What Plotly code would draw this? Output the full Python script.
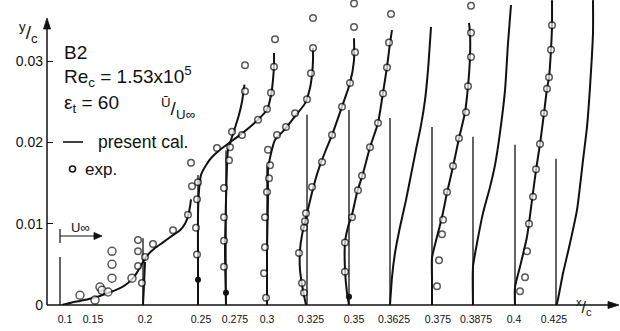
import plotly.graph_objects as go

# ---------------------------------------------------------------------------
# Mean velocity profiles U/U_inf versus y/c at chordwise stations x/c (case B2)
# ---------------------------------------------------------------------------
stations = ["0.1", "0.15", "0.2", "0.25", "0.275", "0.3", "0.325",
            "0.35", "0.3625", "0.375", "0.3875", "0.4", "0.425"]

# height (y/c) of the zero-velocity reference line drawn at each station
ref_top = [0.0059, None, 0.0082, 0.016, 0.019, 0.017, 0.0234,
           0.024, 0.023, 0.0219, 0.0207, 0.0197, 0.018]

# --- calculated profiles (present cal.) ---
cal_y_0100 = [0, 0.00025, 0.0005, 0.0007, 0.0011, 0.0015, 0.0018, 0.0022, 0.0027, 0.0033, 0.0042,
              0.0053, 0.0062, 0.0070, 0.0077, 0.0086, 0.0092, 0.0100, 0.0109, 0.0121, 0.0130]
cal_u_0100 = [0.04, 0.2, 0.4, 0.56, 0.8, 0.96, 1.1, 1.24, 1.36, 1.46, 1.56,
              1.66, 1.76, 1.9, 2.06, 2.26, 2.4, 2.5, 2.56, 2.6, 2.62]
cal_y_0200 = [0, 0.0025, 0.0053]
cal_u_0200 = [0, 0.02, 0.04]
cal_y_0250 = [0, 0.0055, 0.0111, 0.0141, 0.016, 0.0172, 0.0182, 0.0191, 0.0200, 0.0212, 0.0228,
              0.0240, 0.0258, 0.0277, 0.0295, 0.0310]
cal_u_0250 = [0, 0, 0, 0.02, 0.06, 0.16, 0.28, 0.44, 0.64, 0.9, 1.2, 1.38, 1.46, 1.5, 1.52, 1.52]
cal_y_0275 = [0, 0.0068, 0.0129, 0.0172, 0.0191, 0.0203, 0.0218, 0.0234, 0.0250, 0.0267, 0.0271]
cal_u_0275 = [0, -0.02, 0, 0.02, 0.04, 0.1, 0.18, 0.26, 0.32, 0.36, 0.37]
cal_y_0300 = [0, 0.0068, 0.0129, 0.0166, 0.0181, 0.0203, 0.0215, 0.0232, 0.0248, 0.0267, 0.0283,
              0.0301, 0.0316]
cal_u_0300 = [0, 0, 0.02, 0.02, 0.06, 0.16, 0.34, 0.56, 0.76, 0.86, 0.9, 0.92, 0.92]
cal_y_0325 = [0, 0.0018, 0.0043, 0.0068, 0.0086, 0.0102, 0.0123, 0.0148, 0.0172, 0.0191, 0.0209,
              0.0244, 0.0273, 0.0301, 0.0328]
cal_u_0325 = [-0.02, -0.08, -0.14, -0.14, -0.1, -0.04, 0.04, 0.14, 0.26, 0.38, 0.5,
              0.7, 0.86, 0.94, 0.94]
cal_y_0350 = [0, 0.0015, 0.0043, 0.0077, 0.0096, 0.0111, 0.0138, 0.0162, 0.0194, 0.0224, 0.0261,
              0.0293, 0.0322, 0.0338]
cal_u_0350 = [0, -0.04, -0.08, -0.08, -0.02, 0.06, 0.16, 0.28, 0.42, 0.58, 0.68, 0.76, 0.82, 0.86]
cal_y_03625 = [0, 0.0034, 0.0064, 0.0096, 0.0129, 0.016, 0.0191, 0.0221, 0.0252, 0.0289, 0.0342]
cal_u_03625 = [0, 0.04, 0.1, 0.2, 0.32, 0.42, 0.52, 0.62, 0.7, 0.76, 0.82]
cal_y_0375 = [0, 0.0031, 0.0058, 0.0084, 0.0108, 0.0138, 0.017, 0.0205, 0.0237, 0.0269, 0.0305,
              0.0335, 0.0347]
cal_u_0375 = [0, 0, 0, 0.1, 0.2, 0.3, 0.42, 0.54, 0.66, 0.72, 0.76, 0.76, 0.74]
cal_y_03875 = [0, 0.0047, 0.0076, 0.0113, 0.0145, 0.0172, 0.0212, 0.0264, 0.0322, 0.0369]
cal_u_03875 = [0, 0, 0.08, 0.2, 0.34, 0.44, 0.54, 0.64, 0.7, 0.76]
cal_y_0400 = [0, 0.0022, 0.0047, 0.0084, 0.0129, 0.0166, 0.0198, 0.0236, 0.0266, 0.028, 0.0314,
              0.0344, 0.0375]
cal_u_0400 = [0, 0, 0.1, 0.24, 0.34, 0.42, 0.5, 0.58, 0.64, 0.68, 0.72, 0.74, 0.74]
cal_y_0425 = [0, 0.0002, 0.0039, 0.0076, 0.0117, 0.0178, 0.0219, 0.0268, 0.0335, 0.0375]
cal_u_0425 = [0, 0.02, 0.14, 0.28, 0.42, 0.54, 0.62, 0.68, 0.74, 0.74]

# --- measured profiles (exp.) ---
exp_y_0100 = [0.0012, 0.0006]
exp_u_0100 = [0.4, 0.7]
exp_y_0150 = [0.0022, 0.0018, 0.0016, 0.0033, 0.0050, 0.0066, 0.0033]
exp_u_0150 = [0.16, 0.2, 0.32, 0.4, 0.4, 0.4, 0.8]
exp_y_0200 = [0.0080, 0.0066, 0.0048, 0.0027, 0.0059, 0.0075, 0.0092, 0.0111]
exp_u_0200 = [-0.1, -0.1, -0.1, -0.02, 0.04, 0.2, 0.6, 0.9]
exp_y_0250 = [0.0130, 0.0095, 0.0062, 0.0151, 0.0146, 0.0175, 0.0193, 0.0209, 0.0228, 0.0241,
              0.0261, 0.0293, 0.0327]
exp_u_0250 = [-0.02, -0.04, -0.02, 0, -0.12, -0.14, 0.38, 0.88, 1.2, 1.38, 1.46, 1.52, 1.54]
exp_y_0275 = [0.0178, 0.0144, 0.0108, 0.0079, 0.0047, 0.0194, 0.0213, 0.0263, 0.0295]
exp_u_0275 = [0.06, -0.04, -0.04, -0.04, -0.04, 0.08, 0.12, 0.38, 0.38]
exp_y_0300 = [0.0172, 0.0156, 0.0139, 0.0108, 0.0071, 0.0039, 0.0009, 0.0191, 0.0209, 0.0219,
              0.0236, 0.0253, 0.0285, 0.0316, 0.0353]
exp_u_0300 = [0.06, 0.04, 0, -0.04, -0.04, -0.06, -0.02, 0.02, 0.2, 0.38, 0.56, 0.8, 0.88, 0.92, 0.92]
exp_y_0325 = [0.0015, 0.0027, 0.0064, 0.0095, 0.0103, 0.0113, 0.0145, 0.0176, 0.0209, 0.0244,
              0.0273, 0.0311, 0.0342, 0.0371]
exp_u_0325 = [-0.06, -0.1, -0.16, -0.06, -0.04, -0.02, 0.1, 0.3, 0.5, 0.7, 0.86, 0.96, 0.94, 0.94]
exp_y_0350 = [0.0041, 0.0077, 0.0108, 0.0141, 0.0159, 0.0194, 0.0224, 0.0260, 0.0292, 0.0323, 0.0358]
exp_u_0350 = [-0.08, -0.08, 0.06, 0.18, 0.26, 0.42, 0.58, 0.68, 0.76, 0.8, 0.84]
exp_y_0375 = [0.0023, 0.0055, 0.0087, 0.0105, 0.0139, 0.0171, 0.0205, 0.0237, 0.0269, 0.0305,
              0.0335, 0.0368]
exp_u_0375 = [0.1, 0.14, 0.2, 0.22, 0.3, 0.42, 0.54, 0.68, 0.72, 0.78, 0.78, 0.78]
exp_y_0400 = [0.0017, 0.0034, 0.0066, 0.0100, 0.0133, 0.0167, 0.0198, 0.0236, 0.0266, 0.0280,
              0.0314, 0.0344]
exp_u_0400 = [0.1, 0.2, 0.24, 0.28, 0.36, 0.42, 0.5, 0.58, 0.64, 0.68, 0.72, 0.74]

# measured points lying on the wall-side reference line (drawn solid)
exp_solid_station = ["0.25", "0.275", "0.35"]
exp_solid_y = [0.0031, 0.0015, 0.0010]
exp_solid_u = [0, 0, 0]

# ---------------------------------------------------------------------------
# drawing layout
# ---------------------------------------------------------------------------
W, H = 620, 331
ML, MB = 47, 26
X0, X1 = 47, 620                      # horizontal axis span (drawing units)
Y_TOP = 305 / 8130                    # y/c at the top edge of the plot area
U_SCALE = 50                          # drawing units per U/U_inf = 1
station_pos = [60, 92, 143, 198, 226, 267, 307, 349, 390, 432, 473, 515, 556]
label_pos = [65, 93, 145, 201, 235, 267, 311, 354, 394, 438, 476, 514, 554]
INK = "#111111"
FONT = "Liberation Sans"

cal = {"0.1": (cal_y_0100, cal_u_0100), "0.2": (cal_y_0200, cal_u_0200),
       "0.25": (cal_y_0250, cal_u_0250), "0.275": (cal_y_0275, cal_u_0275),
       "0.3": (cal_y_0300, cal_u_0300), "0.325": (cal_y_0325, cal_u_0325),
       "0.35": (cal_y_0350, cal_u_0350), "0.3625": (cal_y_03625, cal_u_03625),
       "0.375": (cal_y_0375, cal_u_0375), "0.3875": (cal_y_03875, cal_u_03875),
       "0.4": (cal_y_0400, cal_u_0400), "0.425": (cal_y_0425, cal_u_0425)}
exp = {"0.1": (exp_y_0100, exp_u_0100), "0.15": (exp_y_0150, exp_u_0150),
       "0.2": (exp_y_0200, exp_u_0200), "0.25": (exp_y_0250, exp_u_0250),
       "0.275": (exp_y_0275, exp_u_0275), "0.3": (exp_y_0300, exp_u_0300),
       "0.325": (exp_y_0325, exp_u_0325), "0.35": (exp_y_0350, exp_u_0350),
       "0.375": (exp_y_0375, exp_u_0375), "0.4": (exp_y_0400, exp_u_0400)}
big_marker = {"0.1", "0.15"}

pos = dict(zip(stations, station_pos))

# zero-velocity reference lines, gathered into one broken polyline
ref_x, ref_y = [], []
for s, top in zip(stations, ref_top):
    if top is None:
        continue
    ref_x += [pos[s], pos[s], None]
    ref_y += [0, top, None]

# calculated profiles: one polyline per station, separated by gaps
cal_x, cal_yy = [], []
for s, (ys, us) in cal.items():
    cal_x += [pos[s] + U_SCALE * u for u in us] + [None]
    cal_yy += list(ys) + [None]

# measured points
exp_x, exp_yy, exp_size = [], [], []
for s, (ys, us) in exp.items():
    exp_x += [pos[s] + U_SCALE * u for u in us]
    exp_yy += list(ys)
    exp_size += [8 if s in big_marker else 6.5] * len(ys)

fig = go.Figure()
fig.add_trace(go.Scatter(x=ref_x, y=ref_y, mode="lines", connectgaps=False,
                         line=dict(color=INK, width=1.3), hoverinfo="skip"))
fig.add_trace(go.Scatter(x=cal_x, y=cal_yy, mode="lines", connectgaps=False,
                         line=dict(color=INK, width=2, shape="spline", smoothing=0.6),
                         hoverinfo="skip"))
fig.add_trace(go.Scatter(x=exp_x, y=exp_yy, mode="markers", cliponaxis=False,
                         marker=dict(symbol="circle", size=exp_size, color="white",
                                     line=dict(color=INK, width=1.5)),
                         hoverinfo="skip"))
fig.add_trace(go.Scatter(x=[pos[s] + U_SCALE * u for s, u in zip(exp_solid_station, exp_solid_u)],
                         y=exp_solid_y, mode="markers",
                         marker=dict(symbol="circle", size=6, color=INK),
                         hoverinfo="skip"))


def px(x):
    """horizontal pixel -> paper fraction"""
    return (x - ML) / (W - ML)


def py(y):
    """vertical pixel (from top) -> paper fraction"""
    return (H - MB - y) / (H - MB)


def seg(x0, y0, x1, y1, width=1.5):
    return dict(type="line", xref="paper", yref="paper", x0=px(x0), y0=py(y0),
                x1=px(x1), y1=py(y1), line=dict(color=INK, width=width))


def head(pts):
    path = "M " + " L ".join(f"{px(a):.5f} {py(b):.5f}" for a, b in pts) + " Z"
    return dict(type="path", xref="paper", yref="paper", path=path,
                fillcolor=INK, line=dict(color=INK, width=0.8))


ann = []
shapes = []
# axes with arrowheads
shapes += [seg(47, 305, 47, 26), head([(47, 18), (43.5, 29), (50.5, 29)])]
shapes += [seg(47, 305, 610, 305), head([(619, 305), (608, 301.5), (608, 308.5)])]

# axis titles
ann.append(dict(x=px(17), y=py(17), xref="paper", yref="paper", showarrow=False,
                text="<sup>y</sup>/<sub>c</sub>", font=dict(size=19, color=INK, family=FONT)))
ann.append(dict(x=px(594), y=py(320), xref="paper", yref="paper", showarrow=False,
                text="<sup>x</sup>/<sub>c</sub>", font=dict(size=16, color=INK, family=FONT)))


# case annotation block
def text_left(x, y, txt, size):
    ann.append(dict(x=px(x), y=py(y), xref="paper", yref="paper", xanchor="left",
                    yanchor="middle", showarrow=False, text=txt,
                    font=dict(size=size, color=INK, family=FONT)))


text_left(62, 53, "B2", 19)
text_left(62, 77, "Re<sub>c</sub> = 1.53x10<sup>5</sup>", 19)
text_left(62, 104, "ε<sub>t</sub> = 60", 19)
text_left(159, 108, "<sup>Ū</sup>/<sub>U∞</sub>", 19)
text_left(96, 142, "present cal.", 17.5)
text_left(83, 169, "exp.", 17)
shapes.append(seg(63, 142, 83, 142, 1.6))
shapes.append(dict(type="circle", xref="paper", yref="paper", x0=px(69.5), x1=px(75.5),
                   y0=py(166), y1=py(172), line=dict(color=INK, width=1.5)))

# free-stream direction marker
shapes += [seg(60, 236, 96, 236, 1.2), head([(102, 236), (94, 232.5), (94, 239.5)]),
           seg(60, 229, 60, 243, 1.2)]
text_left(69, 227, "U∞", 13)

fig.update_layout(
    width=W, height=H,
    margin=dict(l=ML, r=0, t=0, b=MB),
    paper_bgcolor="white", plot_bgcolor="white",
    showlegend=False,
    xaxis=dict(range=[X0, X1], showgrid=False, zeroline=False, showline=False,
               tickmode="array", tickvals=label_pos, ticktext=stations, ticks="",
               ticklabelstandoff=6,
               tickfont=dict(size=10.5, color=INK, family=FONT)),
    yaxis=dict(range=[0, Y_TOP], showgrid=False, zeroline=False, showline=False,
               tickmode="array", tickvals=[0, 0.01, 0.02, 0.03],
               ticktext=["0", "0.01", "0.02", "0.03"], ticks="inside", ticklen=6,
               tickwidth=1.3, tickcolor=INK, ticklabelstandoff=3,
               tickfont=dict(size=14, color=INK, family=FONT)),
    annotations=ann, shapes=shapes,
)

fig.write_html("out.html")
